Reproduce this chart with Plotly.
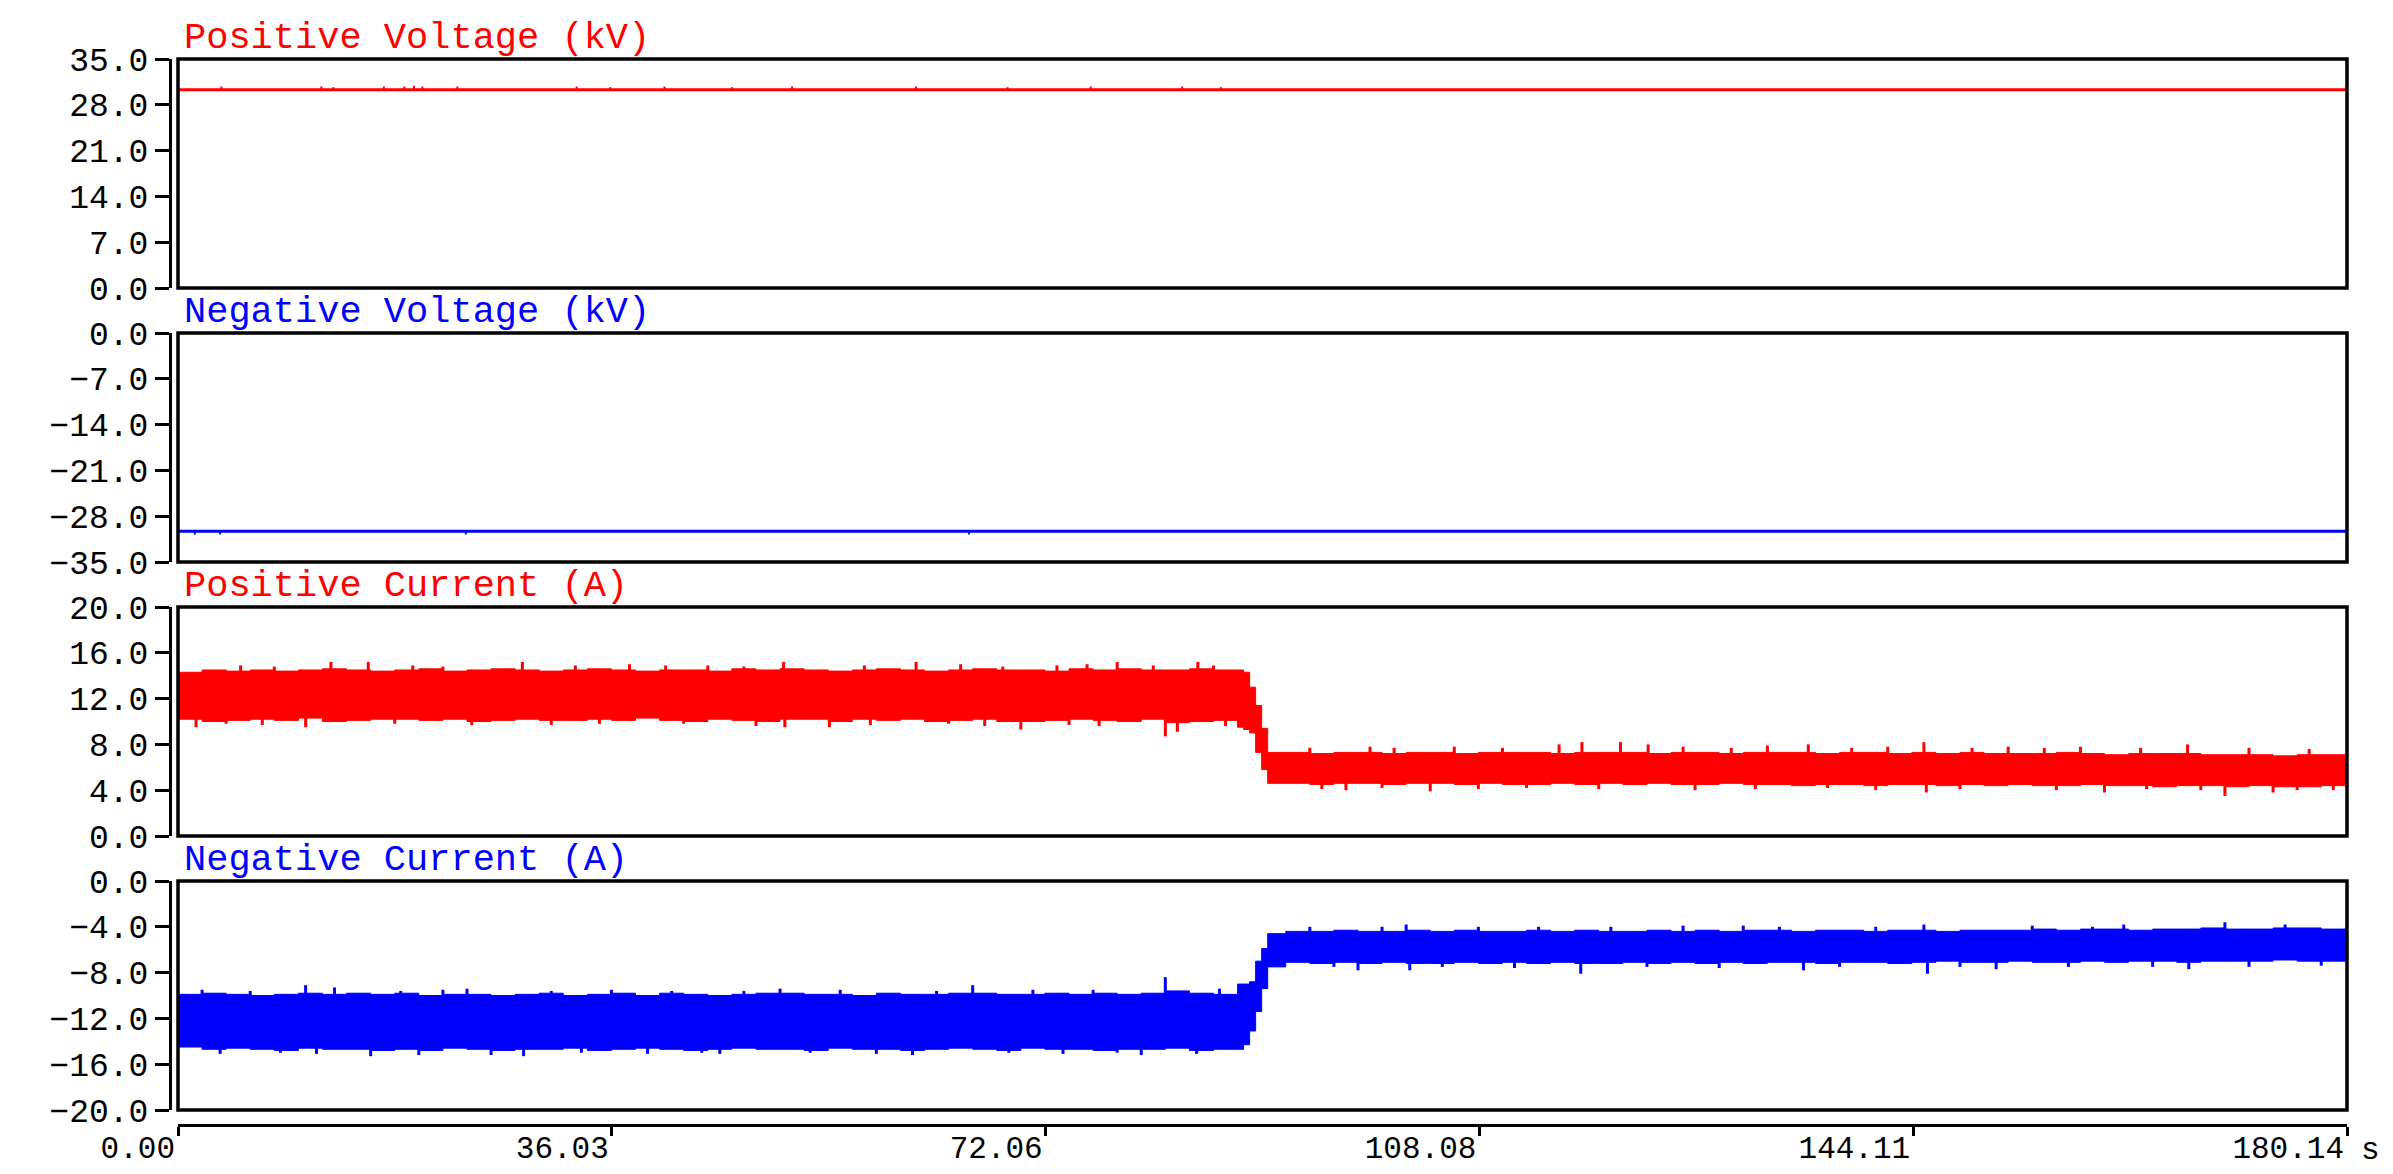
import numpy as np
import plotly.graph_objects as go

# ---------------- data ----------------
t_end = 180.14
x_tick_vals = [0.00, 36.03, 72.06, 108.08, 144.11, 180.14]
x_unit = "s"

titles = ["Positive Voltage (kV)", "Negative Voltage (kV)",
          "Positive Current (A)", "Negative Current (A)"]
colors = ["#FF0000", "#0000FF", "#FF0000", "#0000FF"]
y_ranges = [[0, 35], [-35, 0], [0, 20], [-20, 0]]
y_ticks = [[0, 7, 14, 21, 28, 35],
           [-35, -28, -21, -14, -7, 0],
           [0, 4, 8, 12, 16, 20],
           [-20, -16, -12, -8, -4, 0]]

# voltages (kV)
pos_v_t = [0.0, 180.14]
pos_v = [30.3, 30.3]
pos_v_spike_t = [3.6, 11.9, 12.9, 17.1, 18.8, 19.6, 20.3, 23.2, 33.1, 35.9,
                 40.4, 46.0, 51.0, 61.3, 68.9, 75.8, 83.4, 86.6]
pos_v_spike = [30.8, 30.8, 30.7, 30.8, 30.8, 30.9, 30.8, 30.8, 30.8, 30.7,
               30.8, 30.7, 30.8, 30.8, 30.7, 30.8, 30.8, 30.7]

neg_v_t = [0.0, 180.14]
neg_v = [-30.3, -30.3]
neg_v_spike_t = [1.4, 3.5, 23.9, 65.7]
neg_v_spike = [-30.8, -30.8, -30.8, -30.8]

# currents (A): sampled envelope (upper / lower edge of the noise band)
t_cur = [0, 2, 4, 6, 8, 10, 12, 14, 16, 18, 20, 22, 24, 26, 28, 30, 32, 34, 36, 38,
         40, 42, 44, 46, 48, 50, 52, 54, 56, 58, 60, 62, 64, 66, 68, 70, 72, 74, 76, 78,
         80, 82, 84, 86,
         88, 88.5, 89, 89.5, 90, 90.5,
         92, 94, 96, 98, 100, 102, 104, 106, 108, 110, 112, 114, 116, 118, 120, 122,
         124, 126, 128, 130, 132, 134, 136, 138, 140, 142, 144, 146, 148, 150, 152,
         154, 156, 158, 160, 162, 164, 166, 168, 170, 172, 174, 176, 178, 180,
         180.14]

pos_cur_hi = [14.3, 14.5, 14.4, 14.5, 14.4, 14.5, 14.6, 14.5, 14.4, 14.5,
              14.6, 14.4, 14.5, 14.6, 14.5, 14.4, 14.5, 14.6, 14.5, 14.4,
              14.5, 14.5, 14.4, 14.6, 14.5, 14.6, 14.5, 14.4, 14.5, 14.6,
              14.5, 14.4, 14.5, 14.6, 14.5, 14.5, 14.4, 14.6, 14.5, 14.6,
              14.5, 14.5, 14.6, 14.5,
              14.5, 14.3, 13.0, 11.4, 9.4, 7.3,
              7.3, 7.2, 7.3, 7.3, 7.2, 7.3, 7.3, 7.2, 7.3, 7.3,
              7.3, 7.2, 7.3, 7.3, 7.3, 7.2, 7.3, 7.3, 7.2, 7.3,
              7.3, 7.3, 7.2, 7.3, 7.3, 7.2, 7.3, 7.2, 7.3, 7.2,
              7.2, 7.2, 7.3, 7.2, 7.1, 7.2, 7.2, 7.2, 7.1, 7.1,
              7.1, 7.0, 7.1, 7.1, 7.1,
              7.1]
pos_cur_lo = [10.2, 10.0, 10.1, 10.2, 10.1, 10.3, 10.0, 10.1, 10.2, 10.2,
              10.1, 10.2, 10.0, 10.1, 10.2, 10.1, 10.1, 10.2, 10.1, 10.3,
              10.1, 10.0, 10.2, 10.1, 10.0, 10.2, 10.2, 10.0, 10.2, 10.1,
              10.2, 10.0, 10.1, 10.2, 10.0, 10.0, 10.1, 10.2, 10.1, 10.0,
              10.2, 9.9, 10.0, 10.1,
              9.5, 9.3, 9.0, 7.3, 5.8, 4.6,
              4.6, 4.5, 4.6, 4.6, 4.5, 4.6, 4.6, 4.5, 4.6, 4.5,
              4.5, 4.6, 4.5, 4.6, 4.5, 4.6, 4.5, 4.5, 4.6, 4.5,
              4.5, 4.4, 4.5, 4.5, 4.4, 4.5, 4.5, 4.4, 4.5, 4.4,
              4.5, 4.4, 4.4, 4.5, 4.4, 4.4, 4.3, 4.4, 4.4, 4.3,
              4.4, 4.3, 4.3, 4.4, 4.3,
              4.3]
pos_cur_spike_t = [1.5, 4.0, 5.2, 7.0, 8.0, 10.6, 12.7, 15.8, 18.0, 19.5,
                   22.0, 24.4, 28.6, 31.0, 33.0, 35.0, 37.5, 40.5, 42.0, 44.0,
                   47.0, 48.0, 50.3, 50.4, 54.1, 57.0, 57.5, 61.3, 64.0, 65.0,
                   67.0, 68.5, 70.0, 73.0, 74.0, 75.5, 76.5, 78.0, 81.0, 82.0,
                   83.0, 84.7, 86.0, 87.0,
                   94.0, 95.0, 97.0, 99.0, 100.0, 101.0, 104.0, 106.0, 108.0, 110.0,
                   112.0, 114.7, 116.6, 118.0, 119.8, 122.1, 125.0, 126.0, 129.0, 131.0,
                   132.0, 135.4, 137.0, 139.0, 141.0, 142.0, 145.0, 145.2, 148.0, 149.0,
                   152.0, 155.0, 156.0, 158.0, 160.0, 163.0, 163.5, 166.9, 168.0, 170.0,
                   172.0, 174.0, 176.0, 177.0, 179.0]
pos_cur_spike = [9.5, 9.8, 14.9, 9.7, 14.8, 9.5, 15.2, 15.2, 9.8, 14.9,
                 14.8, 9.7, 15.2, 9.7, 14.9, 9.8, 15.0, 14.9, 9.8, 14.9,
                 14.8, 9.6, 15.2, 9.5, 9.5, 14.9, 9.7, 15.2, 9.8, 15.0,
                 9.6, 14.8, 9.3, 14.9, 9.7, 15.0, 9.6, 15.2, 14.9, 8.7,
                 9.1, 15.2, 14.9, 9.6,
                 7.7, 4.1, 4.0, 7.8, 4.2, 7.7, 3.9, 7.8, 4.1, 7.7,
                 4.2, 8.0, 8.2, 4.1, 8.2, 8.0, 7.8, 4.0, 7.7, 4.1,
                 7.9, 8.0, 4.2, 7.7, 4.0, 7.8, 8.2, 3.8, 4.1, 7.7,
                 7.8, 7.7, 4.0, 7.8, 3.8, 7.7, 4.1, 8.0, 4.0, 3.5,
                 7.7, 3.8, 4.0, 7.6, 4.0]

neg_cur_hi = [-9.9, -9.8, -9.9, -10.0, -9.9, -9.8, -9.9, -9.8, -9.9, -9.8,
              -10.0, -9.9, -9.9, -10.0, -9.9, -9.8, -10.0, -9.9, -9.8, -10.0,
              -9.8, -9.9, -10.0, -9.9, -9.8, -9.8, -9.9, -9.9, -10.0, -9.8,
              -9.9, -9.9, -9.8, -9.8, -9.9, -9.9, -9.8, -9.9, -9.8, -9.9,
              -9.8, -9.6, -9.8, -9.9,
              -9.0, -9.0, -8.8, -7.0, -5.9, -4.6,
              -4.4, -4.4, -4.3, -4.4, -4.4, -4.3, -4.4, -4.3, -4.4, -4.4,
              -4.3, -4.4, -4.3, -4.4, -4.4, -4.3, -4.4, -4.3, -4.4, -4.3,
              -4.3, -4.4, -4.3, -4.3, -4.4, -4.3, -4.3, -4.4, -4.3, -4.3,
              -4.3, -4.2, -4.3, -4.2, -4.2, -4.3, -4.2, -4.2, -4.1, -4.2,
              -4.2, -4.1, -4.1, -4.2, -4.1,
              -4.2]
neg_cur_lo = [-14.5, -14.7, -14.6, -14.7, -14.8, -14.6, -14.7, -14.7, -14.8, -14.7,
              -14.8, -14.6, -14.7, -14.8, -14.7, -14.7, -14.6, -14.8, -14.7, -14.6,
              -14.7, -14.8, -14.7, -14.6, -14.7, -14.7, -14.8, -14.6, -14.7, -14.7,
              -14.8, -14.7, -14.6, -14.7, -14.8, -14.6, -14.7, -14.7, -14.8, -14.7,
              -14.7, -14.6, -14.8, -14.7,
              -14.7, -14.3, -13.1, -11.4, -9.4, -7.5,
              -7.1, -7.2, -7.1, -7.2, -7.1, -7.2, -7.2, -7.1, -7.2, -7.1,
              -7.2, -7.1, -7.2, -7.2, -7.1, -7.2, -7.1, -7.2, -7.1, -7.2,
              -7.1, -7.1, -7.2, -7.1, -7.1, -7.2, -7.1, -7.0, -7.1, -7.1,
              -7.0, -7.1, -7.1, -7.0, -7.1, -7.0, -7.0, -7.1, -7.0, -7.0,
              -7.0, -6.9, -7.0, -7.0, -6.9,
              -7.0]
neg_cur_spike_t = [2.0, 3.5, 6.0, 8.5, 10.6, 11.5, 13.0, 16.0, 18.5, 20.0,
                   22.0, 24.0, 26.0, 28.7, 31.0, 33.5, 36.0, 39.0, 41.0, 43.5,
                   45.0, 47.0, 50.0, 52.5, 55.0, 58.0, 61.0, 63.0, 66.0, 69.0,
                   71.0, 73.5, 76.0, 78.0, 80.0, 82.0, 84.6, 86.5,
                   94.0, 96.0, 98.0, 100.0, 102.0, 102.3, 105.0, 108.0, 111.0, 113.0,
                   116.5, 119.0, 122.0, 125.0, 128.0, 130.0, 133.0, 135.0, 138.0, 141.0,
                   145.0, 145.3, 148.0, 151.0, 154.0, 157.0, 159.0, 161.6, 164.0, 167.0,
                   170.0, 172.0, 175.0, 178.0]
neg_cur_spike = [-9.5, -15.1, -9.6, -15.0, -9.1, -15.1, -9.3, -15.3, -9.6, -15.2,
                 -9.5, -9.4, -15.2, -15.3, -9.6, -15.0, -9.5, -15.1, -9.6, -15.0,
                 -15.1, -9.6, -9.4, -15.0, -9.5, -15.1, -15.2, -9.6, -9.1, -15.0,
                 -9.5, -15.1, -9.5, -15.0, -15.2, -8.4, -15.1, -9.4,
                 -4.0, -7.5, -7.8, -4.0, -3.8, -7.8, -7.5, -4.0, -7.6, -4.0,
                 -8.1, -4.0, -7.5, -3.9, -7.6, -3.9, -4.0, -7.8, -7.5, -4.0,
                 -3.8, -8.1, -7.5, -7.7, -3.9, -7.5, -4.0, -3.8, -7.5, -7.7,
                 -3.6, -7.5, -3.8, -7.4]

# ---------------- layout geometry ----------------
W, H = 2393, 1174
ML, MR, MT, MB = 170, 46, 59, 49
plot_w = W - ML - MR
plot_h = H - MT - MB
box_left = 178
x_dom = [(box_left - ML) / plot_w, 1.0]
panel_px = [(59, 288), (333, 562), (607, 836), (881, 1110)]


def ydom(top, bot):
    lo = (H - MB - bot) / plot_h
    hi = (H - MB - top) / plot_h
    return [max(0.0, min(1.0, lo)), max(0.0, min(1.0, hi))]


TICK_FONT = dict(family="Liberation Mono", size=33, color="black")
XTICK_FONT = dict(family="Liberation Mono", size=31, color="black")
TITLE_SIZE = 37


def fmt(v, nd):
    return f"{v:.{nd}f}".replace("-", "\u2212")


fig = go.Figure()


def axnames(i):
    return ("x" if i == 1 else f"x{i}"), ("y" if i == 1 else f"y{i}")


def spike_xy(ts, vs, base_fn):
    xs, ys = [], []
    for t, v in zip(ts, vs):
        xs += [t, t, None]
        ys += [base_fn(t), v, None]
    return xs, ys


# voltage panels
for i, (tt, vv, st, sv) in enumerate([(pos_v_t, pos_v, pos_v_spike_t, pos_v_spike),
                                      (neg_v_t, neg_v, neg_v_spike_t, neg_v_spike)], start=1):
    xa, ya = axnames(i)
    c = colors[i - 1]
    sx, sy = spike_xy(st, sv, lambda t, tt=tt, vv=vv: float(np.interp(t, tt, vv)))
    fig.add_trace(go.Scatter(x=sx, y=sy, mode="lines", xaxis=xa, yaxis=ya,
                             line=dict(color=c, width=2), hoverinfo="skip"))
    fig.add_trace(go.Scatter(x=tt, y=vv, mode="lines", xaxis=xa, yaxis=ya,
                             line=dict(color=c, width=2.8)))

# current panels
for i, (hi, lo, st, sv) in enumerate([(pos_cur_hi, pos_cur_lo, pos_cur_spike_t, pos_cur_spike),
                                      (neg_cur_hi, neg_cur_lo, neg_cur_spike_t, neg_cur_spike)], start=3):
    xa, ya = axnames(i)
    c = colors[i - 1]
    mid = (np.array(hi) + np.array(lo)) / 2.0
    fig.add_trace(go.Scatter(x=t_cur, y=lo, mode="lines", xaxis=xa, yaxis=ya,
                             line=dict(color=c, width=1, shape="hv")))
    fig.add_trace(go.Scatter(x=t_cur, y=hi, mode="lines", xaxis=xa, yaxis=ya,
                             fill="tonexty", fillcolor=c,
                             line=dict(color=c, width=1, shape="hv")))
    sx, sy = spike_xy(st, sv, lambda t, mid=mid: float(np.interp(t, t_cur, mid)))
    fig.add_trace(go.Scatter(x=sx, y=sy, mode="lines", xaxis=xa, yaxis=ya,
                             line=dict(color=c, width=3), hoverinfo="skip"))

layout = dict(
    width=W, height=H,
    margin=dict(l=ML, r=MR, t=MT, b=MB, pad=0, autoexpand=False),
    paper_bgcolor="white", plot_bgcolor="white",
    showlegend=False,
    shapes=[], annotations=[],
)

for i in range(1, 5):
    xa, ya = axnames(i)
    xkey = "xaxis" if i == 1 else f"xaxis{i}"
    ykey = "yaxis" if i == 1 else f"yaxis{i}"
    top, bot = panel_px[i - 1]
    layout[ykey] = dict(
        domain=ydom(top, bot), range=y_ranges[i - 1], anchor="free", position=0,
        showline=True, linecolor="black", linewidth=3,
        ticks="outside", ticklen=14, tickwidth=3, tickcolor="black",
        tickvals=y_ticks[i - 1], ticktext=[fmt(v, 1) for v in y_ticks[i - 1]],
        tickfont=TICK_FONT, showgrid=False, zeroline=False, fixedrange=True,
        automargin=False,
    )
    xa_dict = dict(domain=x_dom, range=[0, t_end], anchor=ya, showgrid=False,
                   zeroline=False, fixedrange=True, automargin=False)
    if i < 4:
        xa_dict.update(visible=False, matches="x4")
    else:
        xa_dict.update(
            anchor="free", position=0, visible=True,
            showline=True, linecolor="black", linewidth=3,
            ticks="outside", ticklen=9, tickwidth=3, tickcolor="black",
            tickvals=x_tick_vals, ticktext=[fmt(v, 2) for v in x_tick_vals],
            ticklabelposition="outside left", ticklabelstandoff=-6,
            tickfont=XTICK_FONT,
        )
    layout[xkey] = xa_dict
    xd = "x domain" if i == 1 else f"x{i} domain"
    yd = "y domain" if i == 1 else f"y{i} domain"
    layout["shapes"].append(dict(type="rect", xref=xd, yref=yd, x0=0, x1=1, y0=0, y1=1,
                                 line=dict(color="black", width=3.5), layer="above"))
    layout["annotations"].append(dict(
        text=titles[i - 1], xref=xd, yref=yd, x=0, y=1, xanchor="left", yanchor="bottom",
        xshift=4, yshift=-2, showarrow=False,
        font=dict(family="Liberation Mono", size=TITLE_SIZE, color=colors[i - 1])))

layout["annotations"].append(dict(
    text=x_unit, xref="paper", yref="paper", x=1, y=0, xanchor="left", yanchor="top",
    xshift=12, yshift=-6, showarrow=False, font=XTICK_FONT))

fig.update_layout(**layout)
fig.write_html("out.html")
